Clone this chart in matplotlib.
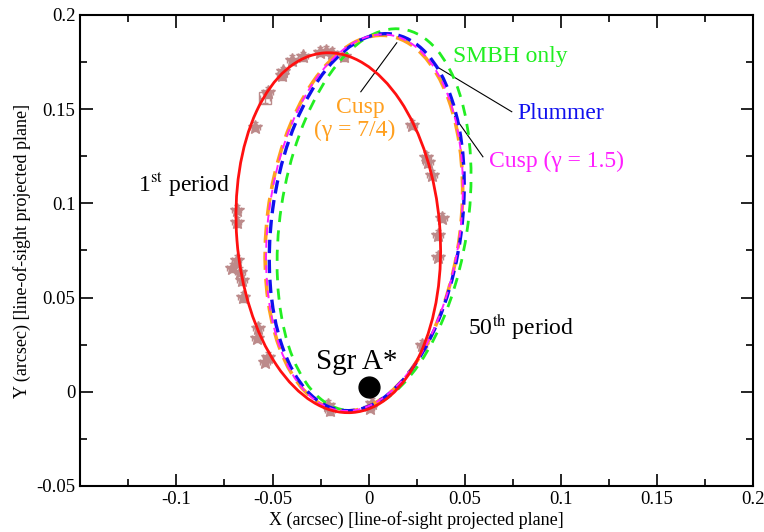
import numpy as np
import matplotlib
matplotlib.use("Agg")
import matplotlib.pyplot as plt
from matplotlib.patches import Ellipse
from matplotlib.ticker import MultipleLocator

plt.rcParams['font.family'] = ['Liberation Serif', 'DejaVu Serif']
plt.rcParams['mathtext.fontset'] = 'stix'

obs_x = [-0.0400, -0.0340, -0.0255, -0.0222, -0.0190, -0.0130,
         -0.0447, -0.0453, -0.0525, -0.0590,
         -0.0687, -0.0687, -0.0687, -0.0713, -0.0670, -0.0660, -0.0655,
         -0.0577, -0.0580, -0.0525, -0.0540,
         -0.0210, -0.0200, 0.0016, 0.0005,
         0.0224, 0.0300, 0.0307, 0.0328, 0.0380, 0.0359, 0.0359, 0.0276]
obs_y = [0.1760, 0.1780, 0.1805, 0.1810, 0.1800, 0.1780,
         0.1700, 0.1680, 0.1590, 0.1407,
         0.0966, 0.0900, 0.0700, 0.0658, 0.0637, 0.0594, 0.0504,
         0.0340, 0.0287, 0.0186, 0.0160,
         -0.0069, -0.0096, -0.0058, -0.0085,
         0.1417, 0.1247, 0.1220, 0.1152, 0.0924, 0.0833, 0.0717, 0.0249]
obs_err = 0.0025
# one point drawn as open square
sq_x = [-0.0540]
sq_y = [0.1560]

# orbit ellipses: centre x, centre y, width, height, angle (deg)
orbit_names = ['SMBH only', 'Cusp 7/4', 'Plummer', 'Cusp 1.5', '1st period']
orbit_cx = [0.0028, -0.0025, -0.0010, -0.0022, -0.0158]
orbit_cy = [0.0913, 0.0895, 0.0900, 0.0897, 0.0844]
orbit_w = [0.0974, 0.1005, 0.0988, 0.1000, 0.1057]
orbit_h = [0.2044, 0.2005, 0.2014, 0.2010, 0.1914]
orbit_ang = [-8.4, -7.0, -7.5, -7.2, 4.4]
orbit_col = ['#22ee22', '#ffa020', '#1010ee', '#ff20ff', '#ff1010']
orbit_lw = [2.0, 2.6, 2.4, 1.4, 2.0]
orbit_ls = [(0, (4, 3)), (0, (5, 2.5)), (0, (4, 2)), (0, (4, 2.5)), '-']

sgr_x, sgr_y = 0.0, 0.0027

fig = plt.figure(figsize=(7.64, 5.32), dpi=100)
ax = fig.add_axes([0.105, 0.0865, 0.881, 0.8855])

# data points with error bars
ax.errorbar(obs_x, obs_y, xerr=obs_err, yerr=obs_err, fmt='*', ms=10,
            color='#bc8a8a', ecolor='#bc8a8a', elinewidth=1, capsize=2.5,
            zorder=2)
ax.errorbar(sq_x, sq_y, xerr=obs_err, yerr=obs_err, fmt='s', ms=8, mfc='none',
            color='#bc8a8a', elinewidth=1, capsize=2.5, zorder=2)

# orbits
for i in range(len(orbit_names)):
    e = Ellipse((orbit_cx[i], orbit_cy[i]), orbit_w[i], orbit_h[i],
                angle=orbit_ang[i], fill=False, edgecolor=orbit_col[i],
                lw=orbit_lw[i], linestyle=orbit_ls[i], zorder=3 + i)
    ax.add_patch(e)

# Sgr A*
ax.plot(sgr_x, sgr_y, 'o', color='black', ms=15, zorder=10)
ax.text(-0.0275, 0.016, 'Sgr A*', fontsize=21, ha='left', va='center')

# labels
ax.text(0.0437, 0.1778, 'SMBH only', color='#22ee22', fontsize=17, va='center')
ax.text(0.0775, 0.1478, 'Plummer', color='#1010ee', fontsize=17, va='center')
ax.text(0.0627, 0.1223, 'Cusp (γ = 1.5)', color='#ff20ff', fontsize=17,
        va='center')
ax.text(-0.0045, 0.151, 'Cusp', color='#ffa020', fontsize=17, ha='center',
        va='center')
ax.text(-0.0075, 0.1385, '(γ = 7/4)', color='#ffa020', fontsize=17,
        ha='center', va='center')
ax.text(-0.1197, 0.1097, r'1$^{\rm st}$ period', fontsize=17, va='center')
ax.text(0.0515, 0.0345, r'50$^{\rm th}$ period', fontsize=17, va='center')

# leader lines
ax.plot([-0.0041, 0.0146], [0.1592, 0.1852], color='black', lw=0.8)
ax.plot([0.0354, 0.0744], [0.1725, 0.1486], color='black', lw=0.8)
ax.plot([0.0447, 0.0594], [0.1459, 0.1247], color='black', lw=0.8)

ax.set_xlim(-0.15, 0.2)
ax.set_ylim(-0.05, 0.2)
ax.xaxis.set_minor_locator(MultipleLocator(0.025))
ax.yaxis.set_minor_locator(MultipleLocator(0.025))
ax.set_xticks([-0.1, -0.05, 0, 0.05, 0.1, 0.15, 0.2])
ax.set_xticklabels(['-0.1', '-0.05', '0', '0.05', '0.1', '0.15', '0.2'])
ax.set_yticks([-0.05, 0, 0.05, 0.1, 0.15, 0.2])
ax.set_yticklabels(['-0.05', '0', '0.05', '0.1', '0.15', '0.2'])
ax.tick_params(which='both', direction='in', top=True, right=True,
               labelsize=13.5, width=1.2)
ax.tick_params(which='major', length=9)
ax.tick_params(which='minor', length=5)
for s in ax.spines.values():
    s.set_linewidth(1.5)

ax.set_xlabel('X (arcsec) [line-of-sight projected plane]', fontsize=13,
              labelpad=2)
ax.set_ylabel('Y (arcsec) [line-of-sight projected plane]', fontsize=13,
              labelpad=4)

plt.savefig('out.png', dpi=100)
